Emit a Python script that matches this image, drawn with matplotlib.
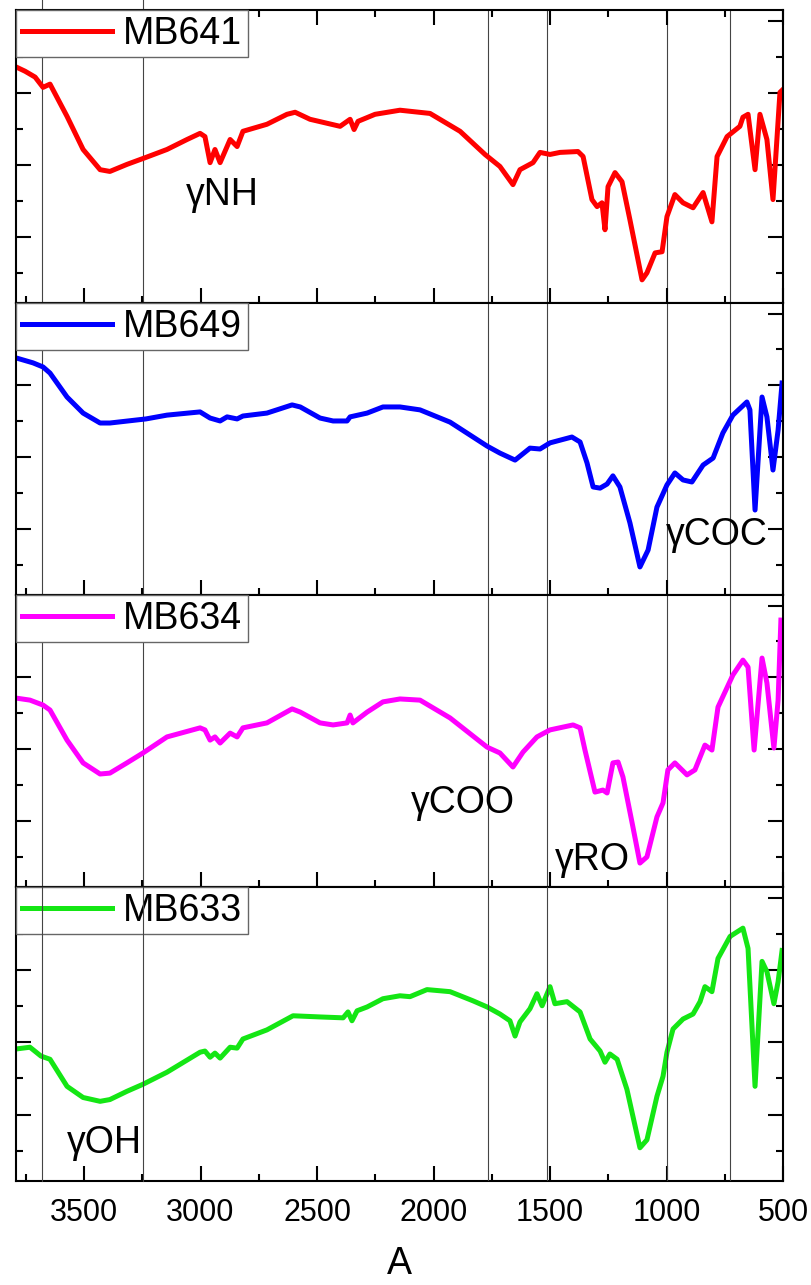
import numpy as np
import matplotlib
matplotlib.use("Agg")
import matplotlib.pyplot as plt
from matplotlib.ticker import MultipleLocator, FixedLocator, NullFormatter

plt.rcParams["font.family"] = ["Liberation Sans", "DejaVu Sans"]

# --- data (wavenumber, transmittance a.u.) ---
wn_641 = [3790, 3753, 3710, 3676, 3646, 3573, 3504, 3431, 3389, 3316, 3234, 3144, 3058, 3002, 2981,
          2959, 2938, 2916, 2873, 2843, 2818, 2715, 2629, 2594, 2530, 2401, 2358, 2341, 2324, 2251,
          2144, 2015, 1886, 1779, 1715, 1659, 1629, 1573, 1543, 1500, 1457, 1380, 1358, 1320, 1298,
          1277, 1264, 1251, 1221, 1191, 1157, 1105, 1084, 1049, 1019, 998, 964, 929, 886, 843,
          805, 783, 740, 685, 672, 650, 620, 599, 569, 543, 513, 500]
t_641 = [80.5, 79.1, 77.1, 73.6, 74.7, 63.7, 52.4, 45.5, 44.9, 47.3, 49.7, 52.4, 55.8, 57.9, 56.8,
         47.9, 52.4, 47.9, 55.8, 53.4, 58.6, 61.0, 64.4, 65.1, 62.7, 60.3, 62.7, 59.2, 62.0, 64.4,
         65.8, 64.7, 58.6, 50.7, 46.6, 40.4, 45.5, 47.9, 51.4, 50.7, 51.4, 51.7, 50.0, 35.3, 32.9,
         34.2, 25.0, 39.7, 44.5, 41.4, 28.4, 7.9, 10.3, 17.1, 17.5, 29.5, 37.0, 34.2, 32.5, 37.7,
         27.7, 50.0, 56.8, 60.3, 63.4, 64.4, 45.5, 64.4, 55.8, 35.3, 71.9, 72.9]

wn_649 = [3792, 3719, 3676, 3646, 3573, 3504, 3431, 3389, 3234, 3144, 3002, 2959, 2916, 2886, 2843,
          2818, 2715, 2607, 2572, 2487, 2431, 2371, 2358, 2285, 2217, 2144, 2058, 1929, 1770, 1715,
          1650, 1586, 1543, 1500, 1406, 1371, 1341, 1315, 1285, 1255, 1230, 1200, 1157, 1114, 1079,
          1041, 998, 964, 929, 891, 843, 800, 758, 715, 655, 642, 620, 590, 569, 543, 521, 504]
t_649 = [81.2, 79.5, 78.1, 76.0, 67.8, 62.3, 58.9, 58.9, 60.3, 61.6, 62.7, 60.6, 59.6, 61.0, 60.3,
         61.3, 62.3, 65.1, 64.4, 60.6, 59.6, 59.6, 61.0, 62.3, 64.4, 64.4, 63.4, 59.2, 51.0, 48.6,
         46.2, 50.3, 50.0, 52.1, 54.1, 52.4, 45.2, 37.0, 36.6, 38.0, 40.8, 37.0, 24.7, 9.6, 15.4,
         30.1, 37.7, 41.8, 39.4, 38.7, 44.5, 46.9, 55.5, 61.6, 66.1, 63.4, 29.1, 67.8, 61.0, 42.8,
         56.5, 72.6]

wn_634 = [3792, 3732, 3676, 3646, 3573, 3504, 3431, 3389, 3316, 3247, 3144, 3002, 2981, 2959, 2938,
          2916, 2873, 2843, 2818, 2715, 2607, 2572, 2487, 2431, 2371, 2358, 2346, 2285, 2217, 2144,
          2058, 1929, 1770, 1715, 1659, 1616, 1556, 1500, 1401, 1371, 1350, 1307, 1273, 1255, 1230,
          1208, 1187, 1144, 1114, 1084, 1041, 1015, 994, 964, 912, 878, 835, 805, 779, 715,
          672, 650, 624, 590, 569, 539, 521, 509]
t_634 = [64.7, 64.0, 62.3, 60.6, 50.3, 42.5, 38.7, 39.0, 42.5, 45.9, 51.4, 54.5, 53.8, 50.3, 51.4,
         49.3, 52.7, 51.4, 54.5, 56.2, 61.0, 59.9, 56.2, 55.5, 56.2, 58.9, 56.2, 59.9, 63.4, 64.4,
         64.0, 57.9, 47.9, 45.9, 41.1, 46.2, 51.4, 53.8, 55.5, 54.5, 46.9, 32.5, 33.2, 32.2, 42.5,
         42.8, 37.7, 20.5, 8.2, 10.3, 24.0, 28.8, 40.1, 42.5, 38.4, 40.1, 48.6, 46.9, 61.6, 72.6,
         77.7, 75.3, 46.9, 78.4, 69.9, 47.6, 64.0, 91.4]

wn_633 = [3792, 3732, 3685, 3646, 3573, 3504, 3431, 3389, 3316, 3247, 3144, 3002, 2981, 2959, 2938,
          2916, 2873, 2843, 2818, 2715, 2603, 2487, 2388, 2367, 2350, 2328, 2285, 2217, 2144, 2101,
          2028, 1929, 1831, 1770, 1715, 1672, 1650, 1629, 1586, 1556, 1534, 1500, 1479, 1427, 1371,
          1328, 1285, 1264, 1243, 1212, 1170, 1114, 1084, 1041, 1015, 998, 972, 929, 886, 856,
          835, 805, 779, 727, 672, 650, 620, 590, 569, 539, 521, 504]
t_633 = [44.9, 45.5, 42.5, 41.4, 32.2, 28.4, 27.1, 27.7, 30.5, 32.9, 37.0, 43.8, 44.2, 42.1, 43.5,
         41.8, 45.5, 45.2, 48.3, 51.4, 56.2, 55.8, 55.5, 57.5, 54.5, 57.9, 59.2, 62.0, 63.0, 62.7,
         65.1, 64.4, 61.3, 59.2, 56.8, 54.5, 49.3, 54.1, 58.6, 63.7, 59.6, 66.1, 60.3, 61.0, 57.5,
         48.3, 44.2, 40.4, 43.2, 41.4, 31.2, 11.3, 14.0, 28.8, 35.6, 43.8, 51.7, 55.1, 56.8, 61.0,
         66.1, 64.4, 75.7, 83.2, 86.0, 79.1, 32.2, 74.7, 71.2, 60.3, 67.8, 78.4]

samples = ["MB641", "MB649", "MB634", "MB633"]
colors = ["#ff0000", "#0000ff", "#ff00ff", "#14e614"]
series = [(wn_641, t_641), (wn_649, t_649), (wn_634, t_634), (wn_633, t_633)]

# band labels: (panel, wavenumber, baseline value, text)
bands = [(0, 2908, 33.5, "γNH"), (1, 783, 17.1, "γCOC"), (2, 1873, 25.3, "γCOO"),
         (2, 1320, 5.8, "γRO"), (3, 3414, 9.6, "γOH")]
left_lines = [3680, 3245]
right_lines = [1765, 1515, 1000, 728]

# --- figure ---
W, H = 812, 1285
fig = plt.figure(figsize=(W / 100, H / 100), dpi=100)
tops = [10, 303, 595, 887]
bots = [303, 595, 887, 1181]
x0, x1 = 16, 783
yticks = [10.3 + 12.3 * k for k in range(8)]

axes = []
for i in range(4):
    ax = fig.add_axes([x0 / W, 1 - bots[i] / H, (x1 - x0) / W, (bots[i] - tops[i]) / H])
    axes.append(ax)
    wn, t = series[i]
    ax.plot(wn, t, color=colors[i], lw=3.6, label=samples[i], solid_joinstyle="round")
    ax.set_xlim(3792, 500)
    ax.set_ylim(0, 100)
    ax.xaxis.set_major_locator(MultipleLocator(500))
    ax.xaxis.set_minor_locator(MultipleLocator(250))
    ax.yaxis.set_major_locator(FixedLocator(yticks[1::2]))
    ax.yaxis.set_minor_locator(FixedLocator(yticks[0::2]))
    ax.yaxis.set_major_formatter(NullFormatter())
    ax.tick_params(which="both", direction="in", width=1.5, left=True, right=True,
                   top=(i == 0), bottom=True, labelleft=False)
    ax.tick_params(which="major", length=11)
    ax.tick_params(which="minor", length=5)
    if i < 3:
        ax.tick_params(labelbottom=False)
    else:
        ax.tick_params(axis="x", labelsize=22, pad=12)
    for s in ax.spines.values():
        s.set_linewidth(1.5)

    z = 6 if i == 3 else 1
    for v in left_lines:
        top = 1 + 10 / 293 if i == 0 else 1
        ax.axvline(v, ymin=0, ymax=top, color="#444444", lw=0.8, zorder=z, clip_on=False)
    for v in right_lines:
        ax.axvline(v, color="#444444", lw=0.8, zorder=z)

    leg = ax.legend(loc="upper left", borderaxespad=0, fontsize=27, handlelength=2.4,
                    handletextpad=0.3, borderpad=0.15, fancybox=False, framealpha=1,
                    edgecolor="#666666")
    leg.get_frame().set_linewidth(1.0)
    for ln in leg.get_lines():
        ln.set_linewidth(3.6)

for p, v, y, txt in bands:
    axes[p].text(v, y, txt, fontsize=27, ha="center", va="baseline")

axes[3].set_xlabel("A", fontsize=27)
axes[3].xaxis.set_label_coords(0.5, -0.222)

fig.savefig("out.png", dpi=100)
